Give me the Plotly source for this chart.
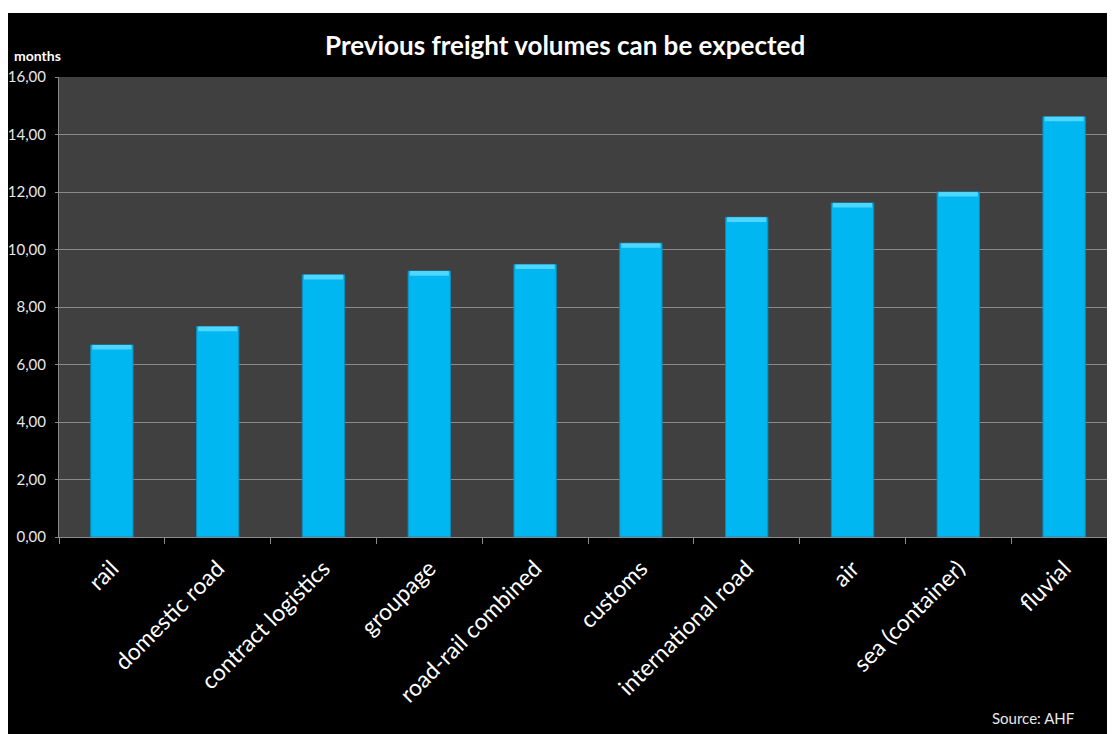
import plotly.graph_objects as go

categories = ["rail", "domestic road", "contract logistics", "groupage", "road-rail combined",
              "customs", "international road", "air", "sea (container)", "fluvial"]
values = [6.68, 7.32, 9.12, 9.25, 9.48, 10.22, 11.12, 11.62, 12.0, 14.62]
y_ticks = [0, 2, 4, 6, 8, 10, 12, 14, 16]

W, H = 1115, 734
L, R, T, B = 51, 6, 69, 205
pw, ph = W - L - R, H - T - B

def px_x(p):
    return (p - L) / pw

def px_y(p):
    return (H - B - p) / ph

bevel = 0.16  # height of the lighter top bevel, in axis units

fig = go.Figure()
fig.add_trace(go.Bar(
    x=categories, y=values, width=0.4,
    marker=dict(color="#00B7F1", line=dict(color="#0C8CBB", width=1)),
    hoverinfo="x+y",
))
fig.add_trace(go.Bar(
    x=categories, y=[bevel] * len(values), base=[v - bevel for v in values],
    width=0.37, marker=dict(color="#4FD6FF", line=dict(width=0)),
    hoverinfo="skip",
))

fig.update_layout(
    width=W, height=H,
    margin=dict(l=L, r=R, t=T, b=B, pad=0, autoexpand=False),
    paper_bgcolor="black",
    plot_bgcolor="#404040",
    separators=",.",
    showlegend=False,
    barmode="overlay",
    font=dict(family="Lato, Open Sans, sans-serif", color="white"),
)
fig.update_yaxes(
    range=[0, 16], tickvals=y_ticks, tickformat=".2f", automargin=False,
    showgrid=True, gridcolor="#8a8a8a", gridwidth=1,
    showline=True, linecolor="#8a8a8a", linewidth=1,
    ticks="outside", ticklen=3, tickcolor="#8a8a8a",
    tickfont=dict(size=15, color="#e8e8e8"), ticklabelstandoff=6,
    zeroline=False, fixedrange=True,
)
fig.update_xaxes(
    tickangle=-45, tickson="boundaries", automargin=False,
    ticks="outside", ticklen=6, tickcolor="#8a8a8a",
    showline=True, linecolor="#8a8a8a", linewidth=1,
    tickfont=dict(size=23, color="white"), ticklabelstandoff=8,
    showgrid=False, fixedrange=True,
)

# thin white strip at the top of the frame
fig.add_shape(type="rect", xref="paper", yref="paper",
              x0=px_x(-5), x1=px_x(1120), y0=px_y(5), y1=px_y(-5),
              fillcolor="white", line=dict(width=0), layer="above")

fig.add_annotation(text="<b>Previous freight volumes can be expected</b>",
                   xref="paper", yref="paper", x=px_x(557), y=px_y(37),
                   xanchor="center", yanchor="middle", showarrow=False,
                   font=dict(size=26, color="white"))
fig.add_annotation(text="<b>months</b>", xref="paper", yref="paper",
                   x=px_x(4), y=px_y(47), xanchor="left", yanchor="middle",
                   showarrow=False, font=dict(size=14, color="white"))
fig.add_annotation(text="Source: AHF", xref="paper", yref="paper",
                   x=px_x(1068), y=px_y(710), xanchor="right", yanchor="middle",
                   showarrow=False, font=dict(size=15, color="#e8e8e8"))

fig.write_html("out.html")
